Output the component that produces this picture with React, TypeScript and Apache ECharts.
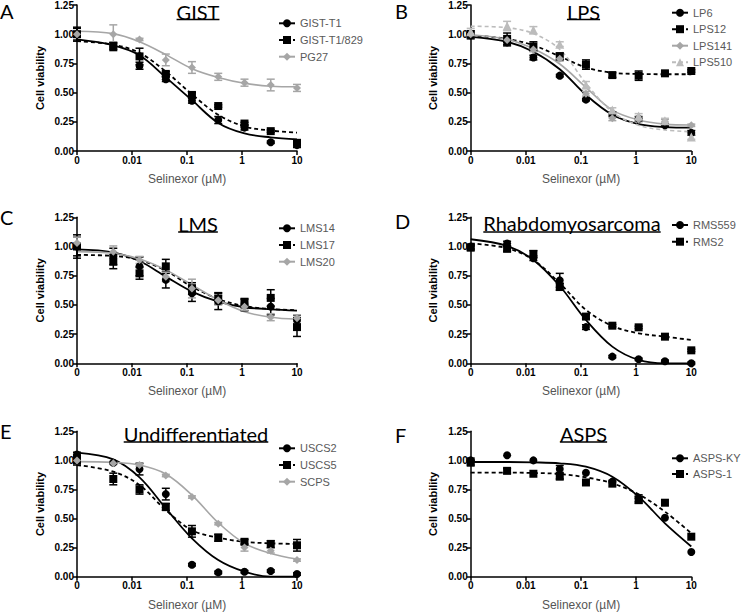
import React, { useEffect, useRef } from "react";
import * as echarts from "echarts";

// ---------- shared axis data ----------
const doses = [0, 0.00457, 0.0137, 0.0412, 0.123, 0.37, 1.11, 3.33, 10];
const xTickLabels = ["0", "0.01", "0.1", "1", "10"];
const zeroDosePosition = -3; // where the "0" dose sits on the log axis

// ---------- A: GIST ----------
const gistT1 = [1.0, 0.89, 0.73, 0.615, 0.43, 0.265, 0.2, 0.075, 0.05];
const gistT1Err = [0.06, 0.03, 0.03, 0.02, 0.02, 0.03, 0.02, 0.01, 0.02];
const gistT1Fit = [0.955, 0.905, 0.82, 0.63, 0.435, 0.24, 0.15, 0.117, 0.1];
const gist829 = [1.0, 0.9, 0.81, 0.66, 0.48, 0.385, 0.235, 0.17, 0.07];
const gist829Err = [0.05, 0.03, 0.07, 0.02, 0.02, 0.01, 0.01, 0.01, 0.01];
const gist829Fit = [0.94, 0.91, 0.84, 0.68, 0.485, 0.31, 0.21, 0.175, 0.157];
const pg27 = [1.0, 1.0, 0.955, 0.78, 0.715, 0.635, 0.585, 0.565, 0.54];
const pg27Err = [0.02, 0.08, 0.01, 0.05, 0.05, 0.03, 0.03, 0.05, 0.03];
const pg27Fit = [1.025, 1.005, 0.935, 0.825, 0.705, 0.63, 0.58, 0.555, 0.55];

// ---------- B: LPS ----------
const lp6 = [0.99, 0.93, 0.8, 0.645, 0.44, 0.315, 0.275, 0.22, 0.155];
const lp6Err = [0.03, 0.03, 0.02, 0.01, 0.01, 0.02, 0.02, 0.01, 0.02];
const lp6Fit = [0.977, 0.935, 0.85, 0.7, 0.48, 0.31, 0.23, 0.205, 0.2];
const lps12 = [1.0, 0.96, 0.895, 0.81, 0.74, 0.65, 0.645, 0.665, 0.685];
const lps12Err = [0.03, 0.05, 0.04, 0.03, 0.04, 0.02, 0.04, 0.01, 0.01];
const lps12Fit = [0.99, 0.96, 0.905, 0.81, 0.715, 0.67, 0.66, 0.657, 0.657];
const lps141 = [1.0, 0.95, 0.87, 0.79, 0.49, 0.28, 0.27, 0.25, 0.22];
const lps141Err = [0.02, 0.02, 0.02, 0.02, 0.02, 0.02, 0.02, 0.02, 0.01];
const lps141Fit = [0.995, 0.955, 0.875, 0.745, 0.545, 0.35, 0.265, 0.23, 0.222];
const lps510 = [1.02, 1.07, 1.035, 0.915, 0.565, 0.35, 0.3, 0.26, 0.12];
const lps510Err = [0.03, 0.04, 0.03, 0.02, 0.03, 0.02, 0.02, 0.02, 0.02];
const lps510Fit = [1.068, 1.056, 1.005, 0.87, 0.58, 0.335, 0.22, 0.18, 0.165];

// ---------- C: LMS ----------
const lms14 = [1.0, 0.915, 0.83, 0.715, 0.6, 0.53, 0.5, 0.485, 0.37];
const lms14Err = [0.1, 0.07, 0.08, 0.07, 0.07, 0.07, 0.05, 0.07, 0.04];
const lms14Fit = [0.976, 0.95, 0.876, 0.742, 0.614, 0.528, 0.48, 0.462, 0.451];
const lms17 = [1.0, 0.87, 0.77, 0.83, 0.64, 0.555, 0.515, 0.56, 0.31];
const lms17Err = [0.08, 0.06, 0.05, 0.06, 0.05, 0.05, 0.04, 0.07, 0.08];
const lms17Fit = [0.928, 0.919, 0.885, 0.793, 0.656, 0.551, 0.49, 0.465, 0.454];
const lms20 = [1.03, 0.955, 0.885, 0.74, 0.64, 0.54, 0.485, 0.395, 0.385];
const lms20Err = [0.05, 0.05, 0.03, 0.04, 0.08, 0.04, 0.03, 0.03, 0.03];
const lms20Fit = [0.956, 0.942, 0.893, 0.8, 0.671, 0.542, 0.442, 0.394, 0.377];

// ---------- D: Rhabdomyosarcoma ----------
const rms559 = [1.0, 1.025, 0.9, 0.71, 0.31, 0.057, 0.034, 0.017, 0.0];
const rms559Err = [0.02, 0.02, 0.02, 0.06, 0.02, 0.01, 0.01, 0.01, 0.01];
const rms559Fit = [1.062, 1.005, 0.885, 0.662, 0.371, 0.143, 0.029, 0.0, 0.0];
const rms2 = [0.99, 0.98, 0.935, 0.655, 0.4, 0.322, 0.308, 0.228, 0.111];
const rms2Err = [0.02, 0.02, 0.03, 0.03, 0.02, 0.01, 0.01, 0.01, 0.01];
const rms2Fit = [1.027, 0.985, 0.885, 0.685, 0.457, 0.32, 0.257, 0.228, 0.2];

// ---------- E: Undifferentiated ----------
const uscs2 = [1.05, 0.98, 0.925, 0.71, 0.103, 0.037, 0.043, 0.049, 0.023];
const uscs2Err = [0.02, 0.01, 0.05, 0.05, 0.01, 0.01, 0.01, 0.01, 0.01];
const uscs2Fit = [1.067, 1.009, 0.854, 0.588, 0.33, 0.143, 0.043, 0.0, 0.0];
const uscs5 = [1.0, 0.84, 0.75, 0.6, 0.39, 0.335, 0.3, 0.28, 0.27];
const uscs5Err = [0.04, 0.05, 0.04, 0.03, 0.05, 0.03, 0.02, 0.03, 0.05];
const uscs5Fit = [0.96, 0.903, 0.788, 0.573, 0.4, 0.335, 0.3, 0.287, 0.281];
const scps = [1.0, 0.975, 0.96, 0.87, 0.685, 0.456, 0.25, 0.224, 0.143];
const scpsErr = [0.02, 0.01, 0.01, 0.01, 0.01, 0.01, 0.03, 0.02, 0.01];
const scpsFit = [0.989, 0.983, 0.96, 0.883, 0.702, 0.464, 0.287, 0.2, 0.152];

// ---------- F: ASPS ----------
const aspsKY = [1.0, 1.044, 1.0, 0.926, 0.894, 0.817, 0.674, 0.507, 0.212];
const aspsKYErr = [0.02, 0.0, 0.0, 0.03, 0.0, 0.0, 0.03, 0.0, 0.0];
const aspsKYFit = [0.986, 0.986, 0.983, 0.975, 0.946, 0.86, 0.688, 0.459, 0.26];
const asps1 = [0.98, 0.91, 0.885, 0.86, 0.81, 0.8, 0.66, 0.636, 0.344];
const asps1Err = [0.02, 0.02, 0.0, 0.02, 0.0, 0.0, 0.03, 0.0, 0.0];
const asps1Fit = [0.895, 0.895, 0.892, 0.883, 0.854, 0.803, 0.708, 0.559, 0.373];

// ---------- styles ----------
const BLACK = "#000000";
const GRAY = "#a6a6a6";
const LIGHT = "#bcbcbc";
const AXIS_FONT = "Liberation Sans";
const TITLE_FONT = "Lato";

type Line = {
  name: string;
  values: number[];
  err: number[];
  fit: number[];
  color: string;
  symbol: string;
  size: number;
  dashed: boolean;
};

const mk = (
  name: string,
  values: number[],
  err: number[],
  fit: number[],
  color: string,
  symbol: string,
  size: number,
  dashed: boolean
): Line => ({ name, values, err, fit, color, symbol, size, dashed });

const panels = [
  {
    letter: "A", title: "GIST",
    grid: { left: 77, top: 4.7, width: 220, height: 146.3 },
    legend: { left: 278, top: 17.3, gap: 4.7 },
    letterPos: [0, 11], titlePos: [198, 11.5, 19.5],
    lines: [
      mk("GIST-T1", gistT1, gistT1Err, gistT1Fit, BLACK, "circle", 8, false),
      mk("GIST-T1/829", gist829, gist829Err, gist829Fit, BLACK, "rect", 8, true),
      mk("PG27", pg27, pg27Err, pg27Fit, GRAY, "diamond", 8, false),
    ],
  },
  {
    letter: "B", title: "LPS",
    grid: { left: 470.7, top: 4.7, width: 220.6, height: 146.3 },
    legend: { left: 671, top: 6.7, gap: 4.5 },
    letterPos: [395, 11], titlePos: [583.5, 11.5, 19.5],
    lines: [
      mk("LP6", lp6, lp6Err, lp6Fit, BLACK, "circle", 8, false),
      mk("LPS12", lps12, lps12Err, lps12Fit, BLACK, "rect", 8, true),
      mk("LPS141", lps141, lps141Err, lps141Fit, GRAY, "diamond", 8, false),
      mk("LPS510", lps510, lps510Err, lps510Fit, LIGHT, "triangle", 9, true),
    ],
  },
  {
    letter: "C", title: "LMS",
    grid: { left: 77, top: 217.3, width: 220, height: 146 },
    legend: { left: 278, top: 222.3, gap: 4.7 },
    letterPos: [0, 216.5], titlePos: [198, 223.5, 232],
    lines: [
      mk("LMS14", lms14, lms14Err, lms14Fit, BLACK, "circle", 8, false),
      mk("LMS17", lms17, lms17Err, lms17Fit, BLACK, "rect", 8, true),
      mk("LMS20", lms20, lms20Err, lms20Fit, GRAY, "diamond", 8, false),
    ],
  },
  {
    letter: "D", title: "Rhabdomyosarcoma",
    grid: { left: 470.7, top: 217.3, width: 220.6, height: 146 },
    legend: { left: 671, top: 219, gap: 4.7 },
    letterPos: [395, 220.5], titlePos: [572, 223, 232],
    lines: [
      mk("RMS559", rms559, rms559Err, rms559Fit, BLACK, "circle", 8, false),
      mk("RMS2", rms2, rms2Err, rms2Fit, BLACK, "rect", 8, true),
    ],
  },
  {
    letter: "E", title: "Undifferentiated",
    grid: { left: 77, top: 431.3, width: 220, height: 145.4 },
    legend: { left: 278, top: 442.3, gap: 4.7 },
    letterPos: [0, 431], titlePos: [196, 433.5, 442],
    lines: [
      mk("USCS2", uscs2, uscs2Err, uscs2Fit, BLACK, "circle", 8, false),
      mk("USCS5", uscs5, uscs5Err, uscs5Fit, BLACK, "rect", 8, true),
      mk("SCPS", scps, scpsErr, scpsFit, GRAY, "diamond", 8, false),
    ],
  },
  {
    letter: "F", title: "ASPS",
    grid: { left: 470.7, top: 431.3, width: 220.6, height: 145.4 },
    legend: { left: 671, top: 452.3, gap: 3.7 },
    letterPos: [395, 435], titlePos: [583.5, 434, 442],
    lines: [
      mk("ASPS-KY", aspsKY, aspsKYErr, aspsKYFit, BLACK, "circle", 8, false),
      mk("ASPS-1", asps1, asps1Err, asps1Fit, BLACK, "rect", 8, true),
    ],
  },
];

const doseToX = (d: number) => (d === 0 ? zeroDosePosition : Math.log10(d));

function measure(text: string, font: string): number {
  const c = document.createElement("canvas").getContext("2d");
  if (!c) return text.length * 10;
  c.font = font;
  return c.measureText(text).width;
}

function buildOption() {
  const grids: any[] = [];
  const xAxes: any[] = [];
  const yAxes: any[] = [];
  const legends: any[] = [];
  const series: any[] = [];
  const graphics: any[] = [];

  panels.forEach((p, i) => {
    grids.push({ ...p.grid, containLabel: false });
    xAxes.push({
      type: "value",
      gridIndex: i,
      min: -3,
      max: 1,
      interval: 1,
      axisLine: { show: true, onZero: false, lineStyle: { color: BLACK, width: 1.5 } },
      axisTick: { show: true, length: 4, lineStyle: { color: BLACK, width: 1.5 } },
      splitLine: { show: false },
      axisLabel: {
        margin: 4,
        color: BLACK,
        fontSize: 10,
        fontWeight: "bold",
        fontFamily: AXIS_FONT,
        formatter: (v: number) => xTickLabels[Math.round(v) + 3] ?? "",
      },
      name: "Selinexor (µM)",
      nameLocation: "middle",
      nameGap: 22,
      nameTextStyle: { color: "#555555", fontSize: 12, fontFamily: AXIS_FONT },
    });
    yAxes.push({
      type: "value",
      gridIndex: i,
      min: 0,
      max: 1.25,
      interval: 0.25,
      axisLine: { show: true, onZero: false, lineStyle: { color: BLACK, width: 1.5 } },
      axisTick: { show: true, length: 4, lineStyle: { color: BLACK, width: 1.5 } },
      splitLine: { show: false },
      axisLabel: {
        margin: 3,
        color: BLACK,
        fontSize: 10,
        fontWeight: "bold",
        fontFamily: AXIS_FONT,
        formatter: (v: number) => v.toFixed(2),
      },
      name: "Cell viability",
      nameLocation: "middle",
      nameGap: 32,
      nameTextStyle: { color: BLACK, fontSize: 11, fontWeight: "bold", fontFamily: AXIS_FONT },
    });
    legends.push({
      orient: "vertical",
      left: p.legend.left,
      top: p.legend.top,
      itemWidth: 16,
      itemHeight: 10,
      itemGap: p.legend.gap,
      padding: 0,
      selectedMode: false,
      data: p.lines.map((l) => l.name),
      textStyle: { color: "#595959", fontSize: 11, fontFamily: AXIS_FONT, lineHeight: 12 },
    });

    p.lines.forEach((l) => {
      const lineType = l.dashed ? [4, 3] : "solid";
      series.push({
        type: "line",
        name: l.name,
        xAxisIndex: i,
        yAxisIndex: i,
        data: doses.map((d, k) => [doseToX(d), l.fit[k]]),
        smooth: 0.35,
        showSymbol: false,
        symbol: l.symbol,
        symbolSize: l.size,
        color: l.color,
        itemStyle: { color: l.color },
        lineStyle: { color: l.color, width: l.color === BLACK ? 1.8 : 1.6, type: lineType },
        z: 2,
        silent: true,
      });
      series.push({
        type: "custom",
        name: l.name,
        xAxisIndex: i,
        yAxisIndex: i,
        silent: true,
        z: 3,
        clip: false,
        encode: { x: 0, y: 1 },
        data: doses.map((d, k) => [doseToX(d), l.values[k], l.err[k]]),
        renderItem: (params: any, api: any) => {
          const x = api.value(0);
          const y = api.value(1);
          const e = api.value(2);
          if (!e) return { type: "group", children: [] };
          const top = api.coord([x, y + e]);
          const bot = api.coord([x, y - e]);
          const hw = 4;
          const st = { stroke: l.color, lineWidth: 1.5 };
          return {
            type: "group",
            children: [
              { type: "line", shape: { x1: top[0], y1: top[1], x2: bot[0], y2: bot[1] }, style: st },
              { type: "line", shape: { x1: top[0] - hw, y1: top[1], x2: top[0] + hw, y2: top[1] }, style: st },
              { type: "line", shape: { x1: bot[0] - hw, y1: bot[1], x2: bot[0] + hw, y2: bot[1] }, style: st },
            ],
          };
        },
      });
      series.push({
        type: "scatter",
        name: l.name,
        xAxisIndex: i,
        yAxisIndex: i,
        symbol: l.symbol,
        symbolSize: l.size,
        itemStyle: { color: l.color, opacity: 1 },
        data: doses.map((d, k) => [doseToX(d), l.values[k]]),
        clip: false,
        z: 4,
        silent: true,
      });
    });

    // panel letter
    graphics.push({
      type: "text",
      x: p.letterPos[0],
      y: p.letterPos[1],
      style: {
        text: p.letter,
        font: `20px ${TITLE_FONT}`,
        fill: BLACK,
        verticalAlign: "middle",
        align: "left",
      },
    });
    // title with underline
    const tFont = `20px ${TITLE_FONT}`;
    const w = measure(p.title, tFont);
    graphics.push({
      type: "text",
      x: p.titlePos[0],
      y: p.titlePos[1],
      style: {
        text: p.title,
        font: tFont,
        fill: BLACK,
        align: "center",
        verticalAlign: "middle",
      },
    });
    graphics.push({
      type: "line",
      shape: {
        x1: p.titlePos[0] - w / 2,
        y1: p.titlePos[2],
        x2: p.titlePos[0] + w / 2,
        y2: p.titlePos[2],
      },
      style: { stroke: BLACK, lineWidth: 1.5 },
    });
  });

  return {
    animation: false,
    backgroundColor: "#ffffff",
    grid: grids,
    xAxis: xAxes,
    yAxis: yAxes,
    legend: legends,
    series,
    graphic: graphics,
  };
}

export default function App() {
  const ref = useRef<HTMLDivElement>(null);
  useEffect(() => {
    if (!ref.current) return;
    const chart = echarts.init(ref.current, undefined, { renderer: "svg" });
    chart.setOption(buildOption() as any);
    return () => chart.dispose();
  }, []);
  return (
    <div
      ref={ref}
      style={{ position: "fixed", left: 0, top: 0, width: 746, height: 612, background: "#fff" }}
    />
  );
}
